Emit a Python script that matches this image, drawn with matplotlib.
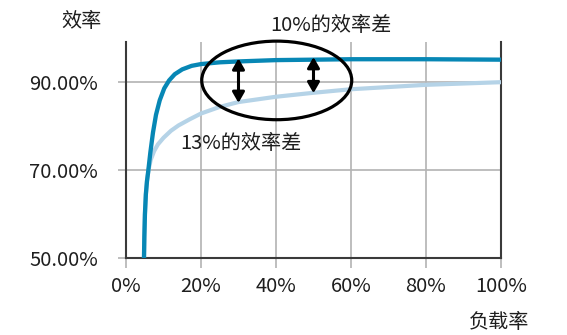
import matplotlib
matplotlib.use("Agg")
import matplotlib.pyplot as plt
from matplotlib.patches import Ellipse

plt.rcParams['font.family'] = ['Noto Sans CJK SC', 'DejaVu Sans']

# ==== data ====
dark_load = [4.8, 4.9, 5.05, 5.3, 5.6, 5.9, 6.5, 7.2, 8.0, 9.0, 10.2, 11.5, 13.0, 15.0,
             17.5, 20, 25, 30, 40, 50, 60, 80, 100]
dark_eff = [50, 55, 60, 64.5, 67.5, 69.5, 74, 78.5, 82.5, 85.8, 88.5, 90.3, 91.7, 92.8,
            93.6, 94.0, 94.4, 94.6, 94.9, 95.0, 95.1, 95.1, 95.0]

light_load = [4.8, 4.9, 5.05, 5.3, 5.6, 6.0, 6.6, 7.5, 8.5, 10, 12, 14, 17, 20, 25, 30,
              40, 50, 60, 70, 80, 90, 100]
light_eff = [50, 55, 60, 64.5, 67.5, 70, 72.3, 74.3, 75.8, 77.3, 78.9, 80.1, 81.5, 82.8,
             84.3, 85.4, 86.6, 87.5, 88.3, 88.8, 89.3, 89.6, 89.9]

x_ticks = [0, 20, 40, 60, 80, 100]
x_labels = ["0%", "20%", "40%", "60%", "80%", "100%"]
y_ticks = [50, 70, 90]
y_labels = ["50.00%", "70.00%", "90.00%"]

arrow_x = [30, 50]
arrow_top = [95.3, 95.6]
arrow_bottom = [85.2, 87.4]
# =====================================

DARK = "#0787b5"
LIGHT = "#b5d3e7"
GRID = "#b3b3b3"
SPINE = "#3a3a3a"
FS = 14.5

fig = plt.figure(figsize=(5.67, 3.35), dpi=100)
ax = fig.add_axes([0.2222, 0.2289, 0.6614, 0.6457])

ax.plot(light_load, light_eff, color=LIGHT, lw=3, solid_capstyle="butt", zorder=3)
ax.plot(dark_load, dark_eff, color=DARK, lw=3.1, solid_capstyle="butt", zorder=4)

ax.set_xlim(0, 100)
ax.set_ylim(50, 99)
ax.set_xticks(x_ticks)
ax.set_xticklabels(x_labels, fontsize=FS, color="#1e1e1e")
ax.set_yticks(y_ticks)
ax.set_yticklabels(y_labels, fontsize=FS, color="#1e1e1e")
ax.grid(True, color=GRID, lw=1.2, zorder=0)
ax.set_axisbelow(True)
ax.tick_params(axis="y", length=6, width=1.2, color=GRID, pad=14)
ax.tick_params(axis="x", length=7, width=1.2, color=GRID, pad=6)

ax.spines["top"].set_visible(False)
for s in ["left", "bottom", "right"]:
    ax.spines[s].set_color(SPINE)
    ax.spines[s].set_linewidth(1.5)

# ellipse and double arrows
ax.add_patch(Ellipse((40.2, 90.3), 40, 17.8, fill=False, lw=2.3, ec="black",
                     zorder=6, clip_on=False))
for x, top, bot in zip(arrow_x, arrow_top, arrow_bottom):
    ax.annotate("", xy=(x, top), xytext=(x, bot),
                arrowprops=dict(arrowstyle="<|-|>,head_length=0.35,head_width=0.2",
                                color="black", lw=2.2, mutation_scale=18,
                                shrinkA=0, shrinkB=0),
                zorder=7)

ax.text(54.7, 102.7, "10%的效率差", fontsize=FS, ha="center", va="center",
        color="#1e1e1e", clip_on=False)
ax.text(30.6, 76.1, "13%的效率差", fontsize=FS, ha="center", va="center",
        color="#1e1e1e")

fig.text(0.143, 0.935, "效率", fontsize=FS, ha="center", va="center", color="#1e1e1e")
fig.text(0.880, 0.036, "负载率", fontsize=FS, ha="center", va="center", color="#1e1e1e")

fig.savefig("out.png", dpi=100)
